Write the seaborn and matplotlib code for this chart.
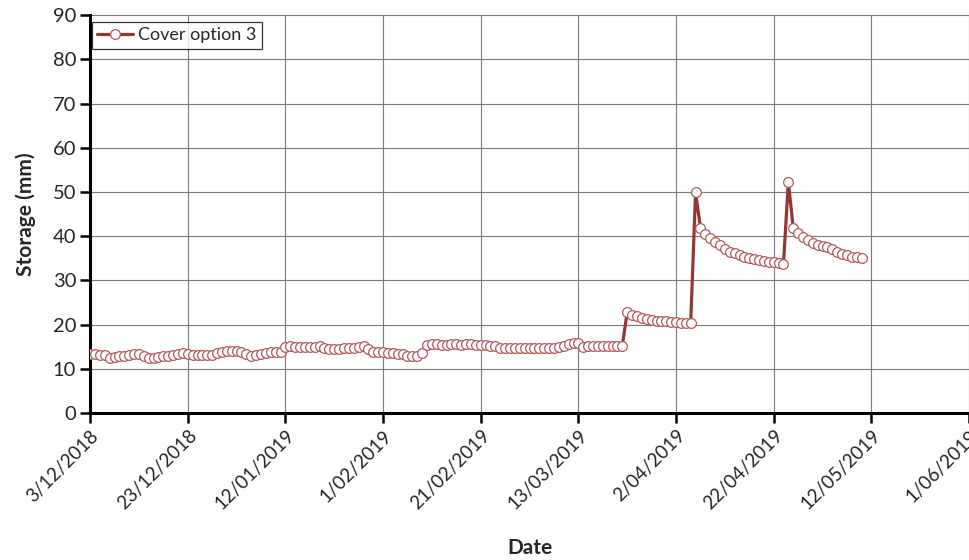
import numpy as np
import pandas as pd
import matplotlib
matplotlib.use("Agg")
import matplotlib.pyplot as plt
import matplotlib.dates as mdates
from matplotlib.ticker import FixedLocator, FuncFormatter
import seaborn as sns

# ---- data ----
start_date = "2018-12-03"
series_name = "Cover option 3"
storage_mm = [
    13.3, 13.3, 13.2, 13.2,
    12.5, 12.7, 12.9, 13.0, 13.1, 13.3, 13.3,
    13.0, 12.5, 12.4, 12.6, 12.8, 13.0, 13.2, 13.4, 13.5,
    13.3, 13.2, 13.2, 13.2, 13.2, 13.1, 13.6, 13.9, 14.0, 14.0,
    14.0, 13.9, 13.4, 12.9, 13.2, 13.4, 13.6, 13.8, 13.7, 13.8,
    15.0, 15.1, 15.0, 15.0, 15.0, 14.9, 15.0, 15.2,
    14.6, 14.5, 14.5, 14.5, 14.6, 14.6, 14.8, 15.0,
    15.1,
    14.4, 13.9, 13.9,
    13.7, 13.5, 13.5, 13.4, 13.3, 13.0, 12.9, 13.0,
    13.6,
    15.4, 15.5, 15.5, 15.4, 15.4, 15.5, 15.5, 15.4, 15.5, 15.5, 15.4, 15.4, 15.3, 15.2, 15.2,
    14.7, 14.6, 14.6, 14.6, 14.6, 14.6, 14.6,
    14.6, 14.6, 14.7, 14.7, 14.8, 15.0, 15.2, 15.5, 15.8,
    15.8,
    15.0,
    15.2, 15.2, 15.2, 15.2, 15.2, 15.2, 15.2, 15.2,
    22.9,
    22.2, 21.9, 21.5, 21.2, 21.0, 20.8, 20.8, 20.9, 20.6, 20.5, 20.4, 20.3, 20.3,
    49.9,
    41.9, 40.6, 39.5, 38.7, 38.0, 37.2, 36.5, 36.1, 35.8, 35.4, 35.0, 34.8, 34.6, 34.4, 34.2, 34.1, 34.0, 33.7,
    52.3,
    41.9, 40.8, 39.7, 39.1, 38.4, 38.0, 37.8, 37.5, 37.0, 36.5, 36.0, 35.7, 35.4, 35.2, 35.0,
]
tick_dates = ["2018-12-03", "2018-12-23", "2019-01-12", "2019-02-01", "2019-02-21",
              "2019-03-13", "2019-04-02", "2019-04-22", "2019-05-12", "2019-06-01"]
y_ticks = [0, 10, 20, 30, 40, 50, 60, 70, 80, 90]

dates = pd.date_range(start_date, periods=len(storage_mm), freq="D")
df = pd.DataFrame({"Date": dates, "Storage": storage_mm})

sns.set_style("white")
plt.rcParams["font.family"] = ["Lato", "DejaVu Sans"]

fig = plt.figure(figsize=(9.69, 5.6), dpi=100)
ax = fig.add_axes([0.093, 0.2625, 0.907, 0.7105])

line_color = "#943634"
sns.lineplot(data=df, x="Date", y="Storage", ax=ax, color=line_color, linewidth=2.3,
             marker="o", markersize=7, markerfacecolor="white",
             markeredgecolor="#B5595A", markeredgewidth=0.9, label=series_name, zorder=3)

tick_nums = mdates.date2num(pd.to_datetime(tick_dates))
ax.set_xlim(tick_nums[0], tick_nums[-1])
ax.xaxis.set_major_locator(FixedLocator(tick_nums))

def fmt(x, pos):
    d = mdates.num2date(x)
    return f"{d.day}/{d.month:02d}/{d.year}"

ax.xaxis.set_major_formatter(FuncFormatter(fmt))
ax.set_ylim(0, 90)
ax.set_yticks(y_ticks)

ax.grid(True, color="#7a7a7a", linewidth=0.8)
ax.set_axisbelow(True)

for s in ["top", "right"]:
    ax.spines[s].set_visible(False)
for s in ["left", "bottom"]:
    ax.spines[s].set_color("black")
    ax.spines[s].set_linewidth(2.2)

ax.tick_params(axis="both", direction="out", length=7, width=1.8, color="black",
               labelsize=14.5, bottom=True, left=True, pad=3)
plt.setp(ax.get_xticklabels(), rotation=45, ha="right", rotation_mode="anchor", fontsize=13.5)

ax.set_xlabel("Date", fontsize=15, fontweight="bold", labelpad=18)
ax.set_ylabel("Storage (mm)", fontsize=15, fontweight="bold", labelpad=12)

leg = ax.legend(loc="upper left", frameon=True, fancybox=False, edgecolor="black",
                fontsize=13, borderpad=0.3, handlelength=2.0, handletextpad=0.25,
                borderaxespad=0.0, bbox_to_anchor=(0.002, 0.983))
leg.get_frame().set_linewidth(0.9)

fig.savefig("out.png", dpi=100)
